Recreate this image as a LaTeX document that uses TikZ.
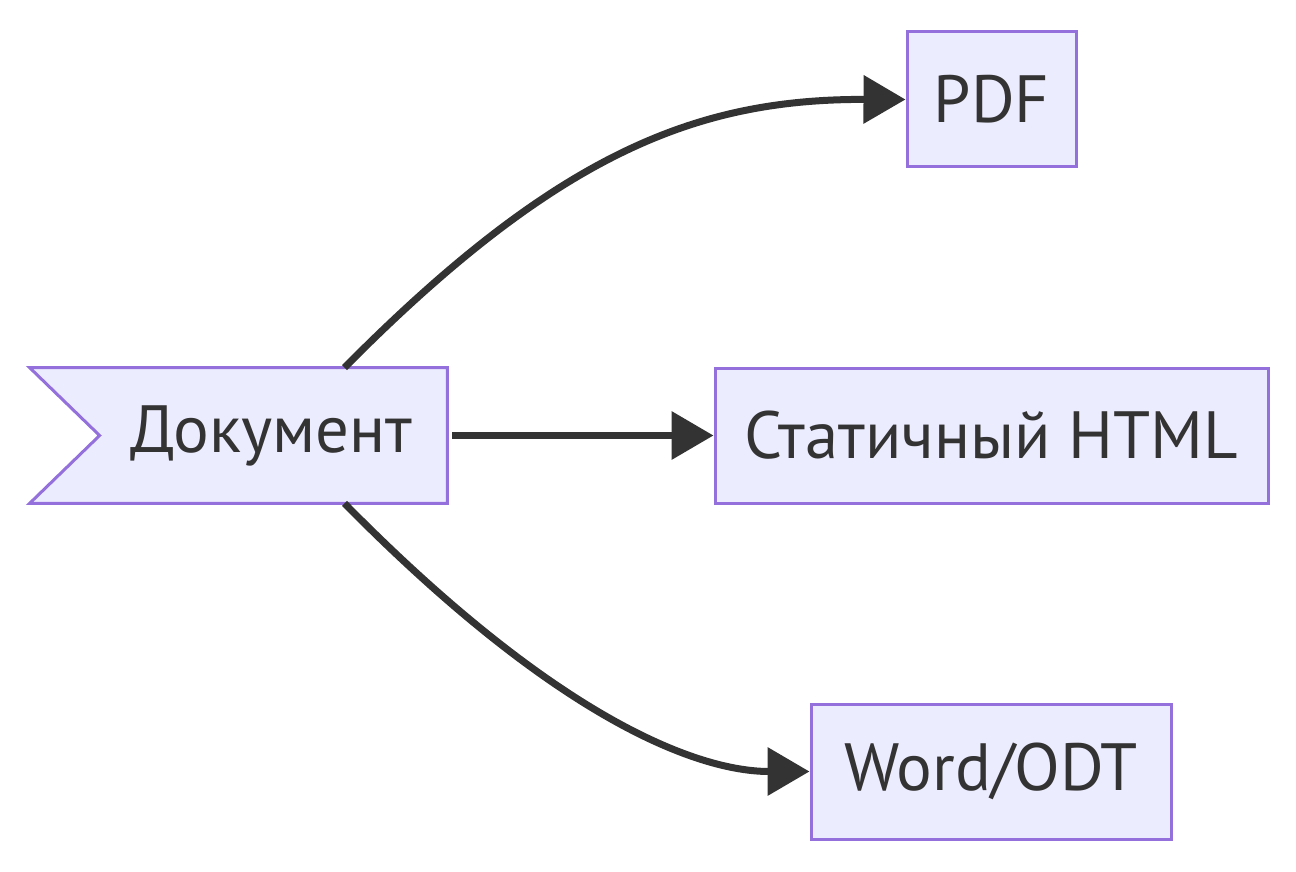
\documentclass[tikz,border=0pt]{standalone}
\usepackage{fontspec}
\setmainfont{PT Sans}
\usepackage{xcolor}
\usetikzlibrary{positioning,arrows.meta,calc}
\definecolor{boxfill}{HTML}{ECECFF}
\definecolor{boxline}{HTML}{9370DB}
\definecolor{ink}{HTML}{333333}
\tikzset{
box/.style={draw=boxline, fill=boxfill, line width=1.5pt, minimum height=67.5pt, inner sep=0pt, text=ink, font=\fontsize{33.4}{38}\selectfont},
link/.style={draw=ink, line width=3.5pt, -{Triangle[length=21pt,width=23.5pt]}}
}

\begin{document}
\begin{tikzpicture}[x=0.5pt, y=-0.5pt]
\useasboundingbox (0,0) rectangle (1296,872);
% target boxes
\node[box, minimum width=84.5pt] (pdf) at (991.5,99.5) {PDF};
\node[box, minimum width=276.5pt] (html) at (991.5,435.5) {Статичный HTML};
\node[box, minimum width=180pt] (word) at (991,771.5) {Word/ODT};
% source flag
\node[minimum width=208.5pt, minimum height=67.5pt, inner sep=0pt] (doc) at (238.5,435.5) {};
\filldraw[draw=boxline, fill=boxfill, line width=1.5pt]
    (doc.north west) -- (doc.north east) -- (doc.south east) -- (doc.south west)
    -- ([xshift=35pt]doc.west) -- cycle;
\node[text=ink, font=\fontsize{33.4}{38}\selectfont] (doctext) at (271,435.5) {Документ};
% links
\draw[link] ([xshift=53pt]doc.north) .. controls (560,150) and (700,99) .. (pdf.west);
\draw[link] ([xshift=2.5pt]doc.east) -- (html.west);
\draw[link] ([xshift=53pt]doc.south) .. controls (560,722) and (700,771.5) .. (word.west);
\end{tikzpicture}
\end{document}
